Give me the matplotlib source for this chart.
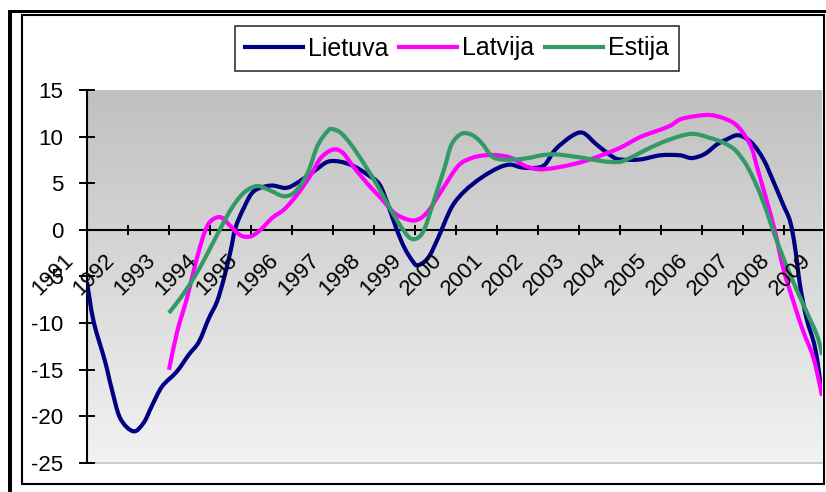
import numpy as np
import matplotlib
matplotlib.use("Agg")
import matplotlib.pyplot as plt
from matplotlib.patches import Rectangle, PathPatch
from matplotlib.path import Path
from matplotlib.lines import Line2D

plt.rcParams['font.family'] = ['Liberation Sans', 'DejaVu Sans']

# ---- data (decimal year, value) ----
lt_x = [1992.00, 1992.16, 1992.44, 1992.60, 1992.81, 1993.13, 1993.38, 1993.58, 1993.83,
        1994.19, 1994.48, 1994.73, 1994.97, 1995.17, 1995.34, 1995.50, 1995.62, 1995.83,
        1996.07, 1996.48, 1996.85, 1997.13, 1997.54, 1997.87, 1998.19, 1998.52, 1998.85,
        1999.13, 1999.34, 1999.54, 1999.74, 1999.95, 2000.07, 2000.32, 2000.56, 2000.89,
        2001.21, 2001.62, 2002.03, 2002.32, 2002.60, 2002.93, 2003.17, 2003.42, 2003.82,
        2004.10, 2004.43, 2004.80, 2005.00, 2005.49, 2005.98, 2006.46, 2006.75, 2007.07,
        2007.36, 2007.60, 2007.89, 2008.21, 2008.50, 2008.74, 2008.98, 2009.15, 2009.27,
        2009.39, 2009.55, 2009.76, 2009.93]
lt_y = [-5.6, -9.8, -14.1, -17.0, -20.2, -21.6, -20.7, -18.9, -16.8,
        -15.2, -13.4, -12.0, -9.5, -7.7, -5.2, -2.3, 0.2, 2.4,
        4.15, 4.75, 4.5, 5.05, 6.3, 7.3, 7.3, 6.8, 5.9,
        4.9, 2.7, 0.2, -1.9, -3.4, -3.8, -3.0, -0.9, 2.4,
        4.15, 5.6, 6.65, 7.0, 6.7, 6.65, 7.0, 8.6, 10.05,
        10.4, 9.15, 7.9, 7.55, 7.55, 8.0, 8.0, 7.7, 8.15,
        9.15, 9.7, 10.15, 9.35, 7.55, 5.2, 2.7, 0.9, -1.9,
        -5.9, -9.5, -12.7, -17.7]

lv_x = [1994.00, 1994.20, 1994.44, 1994.64, 1994.85, 1995.01, 1995.26, 1995.50, 1995.75,
        1995.99, 1996.23, 1996.52, 1996.81, 1997.13, 1997.46, 1997.70, 1997.99, 1998.23,
        1998.52, 1998.85, 1999.17, 1999.50, 1999.83, 2000.07, 2000.32, 2000.64, 2001.05,
        2001.38, 2001.71, 2002.03, 2002.36, 2002.69, 2003.01, 2003.34, 2003.82, 2004.27,
        2004.60, 2005.00, 2005.49, 2005.89, 2006.22, 2006.50, 2007.03, 2007.36, 2007.76,
        2008.00, 2008.21, 2008.37, 2008.58, 2008.78, 2008.98, 2009.23, 2009.47, 2009.72,
        2009.93]
lv_y = [-15.0, -10.9, -7.3, -3.7, -0.5, 0.9, 1.36, 0.4, -0.6,
        -0.7, 0.0, 1.3, 2.2, 3.8, 5.9, 7.7, 8.6, 8.3,
        6.65, 4.9, 3.4, 1.8, 1.1, 1.1, 2.0, 4.15, 6.85,
        7.7, 8.0, 8.0, 7.7, 6.85, 6.5, 6.6, 7.0, 7.55,
        8.1, 8.8, 9.95, 10.6, 11.15, 11.9, 12.3, 12.2, 11.5,
        10.4, 8.8, 6.3, 3.1, -0.15, -4.1, -7.7, -10.9, -13.75,
        -17.8]

ee_x = [1994.00, 1994.28, 1994.60, 1994.93, 1995.26, 1995.54, 1995.83, 1996.15, 1996.48,
        1996.81, 1997.09, 1997.38, 1997.62, 1997.87, 1997.99, 1998.19, 1998.44, 1998.77,
        1999.09, 1999.34, 1999.62, 1999.87, 2000.07, 2000.24, 2000.48, 2000.72, 2000.89,
        2001.13, 2001.38, 2001.62, 2001.87, 2002.11, 2002.44, 2002.76, 2003.09, 2003.42,
        2003.82, 2004.19, 2004.60, 2005.00, 2005.33, 2005.73, 2006.22, 2006.75, 2007.20,
        2007.52, 2007.80, 2008.05, 2008.25, 2008.46, 2008.66, 2008.86, 2009.15, 2009.47,
        2009.80, 2009.93]
ee_y = [-8.9, -7.3, -5.2, -2.6, 0.2, 2.4, 4.0, 4.7, 4.2,
        3.6, 4.15, 6.1, 9.0, 10.6, 10.8, 10.4, 9.15, 7.0,
        4.7, 2.7, 0.6, -0.85, -0.85, 0.2, 3.4, 6.65, 9.15,
        10.3, 10.2, 9.35, 7.9, 7.55, 7.55, 7.7, 8.0, 8.1,
        7.9, 7.65, 7.35, 7.3, 7.9, 8.8, 9.7, 10.3, 9.85,
        9.35, 8.6, 7.2, 5.55, 3.4, 0.9, -1.6, -4.8, -8.0,
        -11.25, -13.4]

series_names = ["Lietuva", "Latvija", "Estija"]
series_colors = ["#000080", "#FF00FF", "#339966"]
year_labels = list(range(1991, 2010))
y_ticks = [-25, -20, -15, -10, -5, 0, 5, 10, 15]

# ---- figure geometry (pixels) ----
W, H = 826, 492
fig = plt.figure(figsize=(W / 100, H / 100), dpi=100)
fig.patch.set_facecolor("white")


def fx(x):
    return x / W


def fy(y):
    return 1 - y / H


def smooth_path(xs, ys):
    """Smoothed polyline (Catmull-Rom segments as cubic Bezier curves)."""
    p = np.column_stack([xs, ys]).astype(float)
    ext = np.vstack([p[0], p, p[-1]])
    verts = [p[0]]
    codes = [Path.MOVETO]
    for i in range(len(p) - 1):
        a, b, c, d = ext[i], ext[i + 1], ext[i + 2], ext[i + 3]
        verts += [b + (c - a) / 6.0, c - (d - b) / 6.0, c]
        codes += [Path.CURVE4] * 3
    return Path(verts, codes)


ax = fig.add_axes([fx(87), fy(463), (822 - 87) / W, (463 - 90) / H])
x0, x1 = 1992, 1992 + (822 - 87) / 41.0
ax.set_xlim(x0, x1)
ax.set_ylim(-25, 15)

# plot-area gradient
grad = np.linspace(192, 242, 256) / 255.0
img = np.repeat(grad[:, None], 2, axis=1)
img = np.dstack([img, img, img])
ax.imshow(img, extent=[x0, x1, -25, 15], origin="upper", aspect="auto",
          interpolation="bilinear", zorder=0)
ax.set_facecolor("none")
ax.plot([x0, x1], [-25, -25], color="#C4C4C4", lw=1.2, clip_on=False, zorder=1)

# series
handles = []
for xs, ys, name, col in zip([lt_x, lv_x, ee_x], [lt_y, lv_y, ee_y],
                             series_names, series_colors):
    patch = PathPatch(smooth_path(xs, ys), facecolor="none", edgecolor=col,
                      lw=3.0, joinstyle="round", capstyle="butt", zorder=3)
    ax.add_patch(patch)
    handles.append(Line2D([], [], color=col, lw=3.0, label=name))

# axes styling
for s in ["top", "right"]:
    ax.spines[s].set_visible(False)
ax.spines["bottom"].set_position(("data", 0))
ax.spines["bottom"].set_linewidth(1.5)
ax.spines["left"].set_linewidth(1.5)
ax.spines["bottom"].set_zorder(2)
ax.set_xticks(range(1992, 2010))
ax.tick_params(axis="x", direction="inout", length=7.5, width=1.4,
               labelbottom=False)
ax.set_yticks(y_ticks)
ax.set_yticklabels([str(v) for v in y_ticks])
ax.tick_params(axis="y", direction="inout", length=11, width=1.4,
               labelsize=16, pad=11.5)

# rotated year labels below the zero line
for yr in year_labels:
    ax.text(yr + 0.16, -4.8, str(yr), rotation=45, ha="center", va="center",
            fontsize=16, clip_on=False, zorder=4)

# legend
leg = fig.legend(handles=handles, loc="center", ncol=3,
                 bbox_to_anchor=(fx(457), fy(48.5)), fontsize=18,
                 frameon=True, fancybox=False, edgecolor="black",
                 handlelength=2.3, handletextpad=0.2, columnspacing=0.45,
                 borderpad=0.42)
leg.get_frame().set_linewidth(1.2)

# chart frame
fig.add_artist(Rectangle((fx(8), fy(492)), 4 / W, (492 - 10) / H,
                         transform=fig.transFigure, color="black", lw=0))
fig.add_artist(Rectangle((fx(8), fy(13)), (W - 8) / W, 3 / H,
                         transform=fig.transFigure, color="black", lw=0))
fig.add_artist(Rectangle((fx(21.5), fy(484)), (823.5 - 21.5) / W, (484 - 15) / H,
                         transform=fig.transFigure, fill=False,
                         edgecolor="black", lw=1.5))

fig.savefig("out.png", dpi=100)
